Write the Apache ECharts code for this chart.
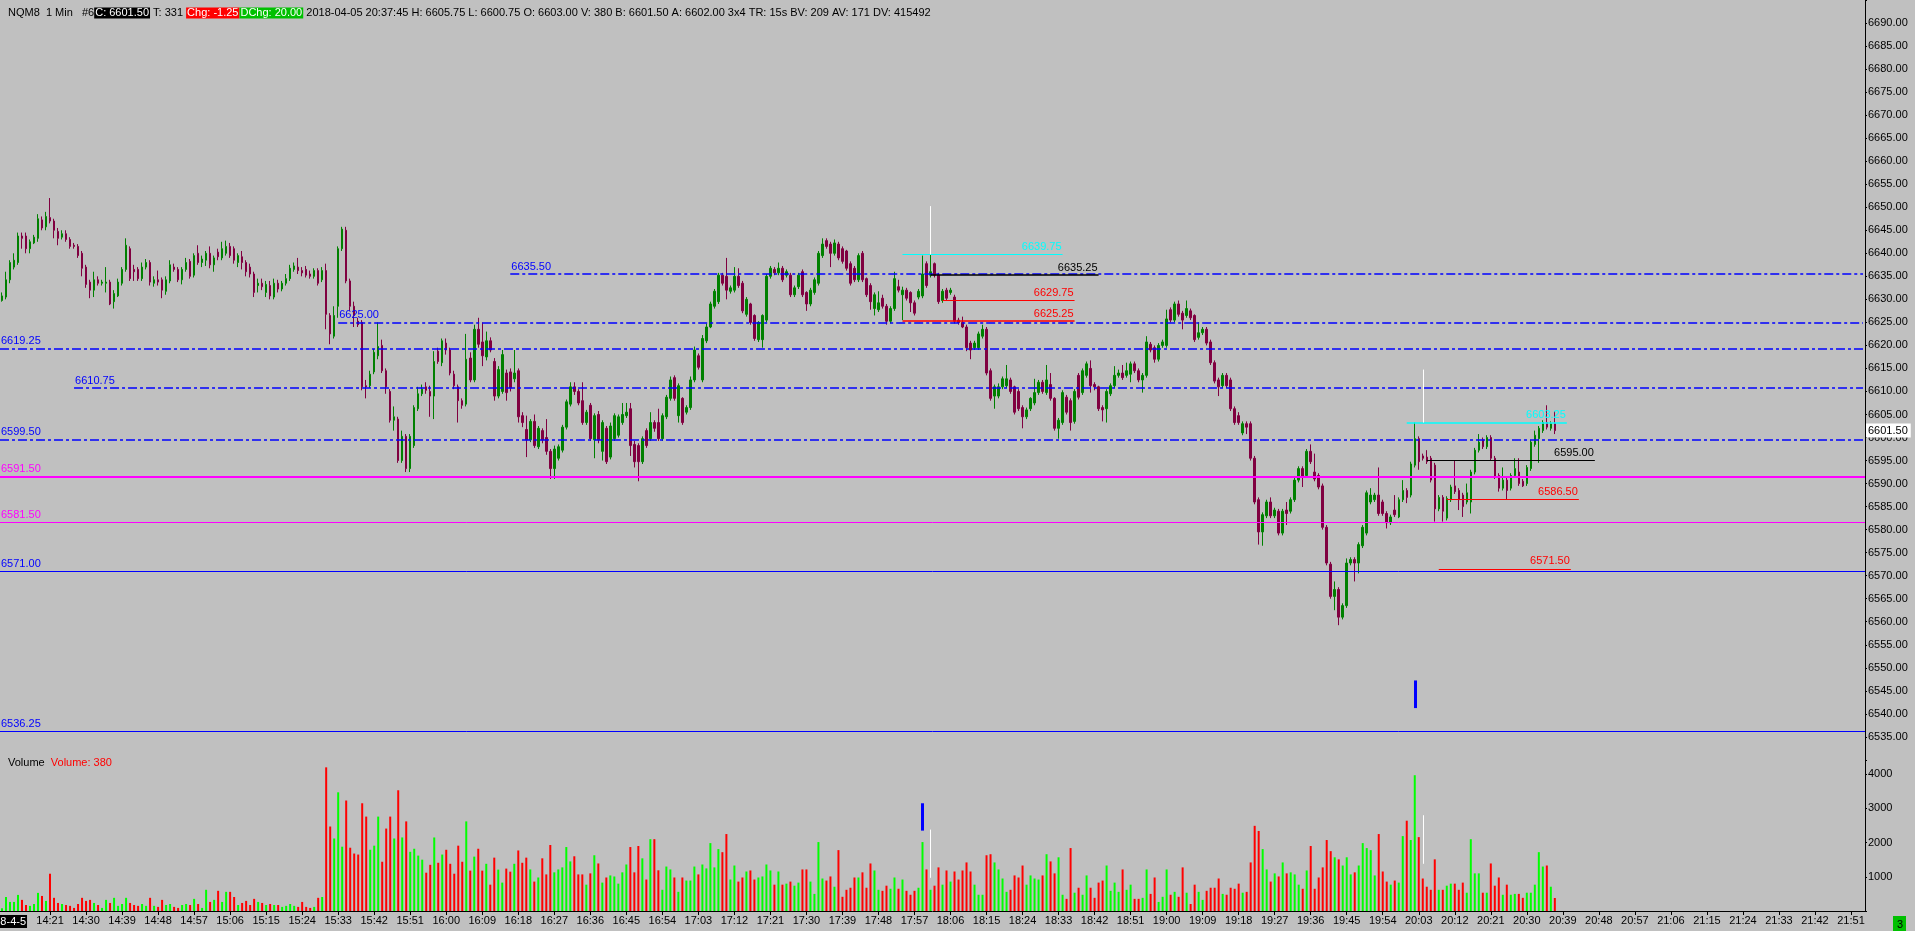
<!DOCTYPE html>
<html><head><meta charset="utf-8">
<script src="https://cdn.jsdelivr.net/npm/echarts/dist/echarts.min.js"></script>
<style>html,body{margin:0;padding:0;background:#c0c0c0;overflow:hidden}#c{width:1915px;height:931px}</style>
</head><body><div id="c"></div><script>
// ---------- data ----------
const startMinute = 14 * 60 + 9;     // first bar 14:09
const slotCount = 466;               // minutes shown on the time axis (to 21:54)
const dateLabel = '2018-4-5';
const tickLabels = ['14:21','14:30','14:39','14:48','14:57','15:06','15:15','15:24','15:33','15:42','15:51','16:00','16:09','16:18','16:27','16:36','16:45','16:54','17:03','17:12','17:21','17:30','17:39','17:48','17:57','18:06','18:15','18:24','18:33','18:42','18:51','19:00','19:09','19:18','19:27','19:36','19:45','19:54','20:03','20:12','20:21','20:30','20:39','20:48','20:57','21:06','21:15','21:24','21:33','21:42','21:51'];
// [open, close, low, high]
const candles = [
[6629.75,6630.75,6629.5,6631.5],[6630.5,6634.25,6630,6636],[6634.25,6638,6633.5,6638.5],[6637,6638.5,6636.5,6640],[6638,6643.75,6637.5,6644.5],
[6643.75,6643.25,6641,6644.5],[6643.75,6641,6640,6644.5],[6641,6642.5,6640,6643],[6642.25,6643.5,6642,6644],[6643.25,6647.5,6642.5,6648.5],
[6647.25,6645.5,6645,6648],[6645.75,6648,6645,6649],[6647.75,6647,6646.5,6652],[6647,6645,6643.25,6647.5],[6644.75,6643.25,6641.75,6645.5],
[6643.5,6644.25,6643,6645],[6644.25,6643,6642.5,6645],[6643,6641.5,6641,6643.5],[6641.75,6641.5,6641,6642.25],[6641.5,6639.5,6639,6642],
[6640,6636.75,6635,6640.5],[6637,6633.25,6632.5,6637.5],[6633.75,6632,6630.25,6634.25],[6632,6634.25,6630.5,6636],[6634.25,6633.5,6633,6635],
[6633.5,6633.75,6633,6634.25],[6633.5,6633.75,6631.5,6637],[6633.75,6629,6628.75,6634.25],[6629.5,6631.25,6628,6632],[6630.75,6633.75,6630.5,6634.5],
[6633.5,6636.5,6633,6637],[6636.5,6641.75,6636,6643.25],[6641,6634.5,6634,6641.5],[6636.5,6636,6634,6637.5],[6636.5,6634.5,6634,6637],
[6634.5,6637,6634,6638],[6637,6638,6636.5,6638.75],[6638,6633.75,6633,6638.5],[6633.5,6634.25,6632.75,6635],[6634.25,6633.75,6633,6636.25],
[6634.25,6632,6630.25,6634.75],[6631.75,6634.25,6631,6635],[6634,6637.5,6633.5,6638.5],[6637,6636.5,6636,6637.75],[6636.5,6634.25,6633.75,6637],
[6634.25,6636.5,6633.25,6637],[6636.5,6638,6636,6639],[6638.25,6635,6634.5,6638.75],[6635.25,6639.5,6634.75,6640],[6640,6638,6637.5,6641.75],
[6638,6638.75,6637,6639.5],[6638.5,6640,6637.25,6640.5],[6640,6637.5,6636.75,6641.5],[6637.5,6639,6636,6639.5],[6640.25,6639.25,6638.5,6641],
[6639,6641,6638.5,6642.5],[6640,6641.5,6639.5,6642.75],[6641.5,6639.5,6639,6642.25],[6641,6638.5,6637.75,6641.5],[6638,6639.5,6637,6640],
[6639.25,6638,6636.5,6640.5],[6638,6636,6635,6638.5],[6637,6635.5,6634.75,6637.75],[6635.5,6631.5,6630.5,6636],[6633,6633.5,6631.5,6634.5],
[6633.5,6632.75,6632,6634.5],[6631.5,6633.25,6630.5,6634],[6633,6630.75,6630,6634],[6630.5,6633.5,6630,6634.5],[6633.5,6632.25,6631.5,6634.25],
[6632.25,6633.5,6631.75,6634],[6633.5,6634.5,6633,6635.5],[6634.5,6636.75,6634,6637.5],[6636.5,6637.25,6636,6638],[6637,6636.25,6635.5,6639],
[6636.25,6635.75,6635,6637],[6636.5,6635.25,6634.75,6637.25],[6635.5,6635,6634.5,6636.25],[6635,6636.25,6634.5,6636.75],[6636.25,6633.5,6633,6636.75],
[6634.25,6636.25,6633.75,6637],[6636.25,6626.75,6623.5,6637.75],[6626.5,6622.5,6620.25,6627],[6622,6626.5,6621.5,6628.5],[6628.5,6641,6626,6641.5],
[6641,6645.25,6640.5,6645.75],[6645,6634,6633.5,6645.75],[6634,6628.5,6627.5,6634.5],[6628.5,6626.5,6624,6629.5],[6625.25,6624.5,6624,6626],
[6625,6611,6610.25,6625.5],[6611.25,6611,6608.5,6612.5],[6611.25,6613.75,6610.75,6614.5],[6614.25,6618.5,6613.75,6619.25],[6617.75,6619.75,6617,6625],
[6620,6614.5,6614,6621.25],[6614.5,6611,6609.5,6615],[6610,6603.75,6603.25,6610.5],[6603.75,6604.5,6601.5,6606.75],[6604,6595,6594.5,6604.5],
[6595,6600.25,6594.5,6601.5],[6600.25,6593.25,6592.5,6600.75],[6593.25,6600.25,6592.5,6600.75],[6598.25,6606.5,6597.75,6607],[6606.25,6609.5,6605.75,6611],
[6609.5,6610.5,6609,6611.5],[6611,6610.25,6609.5,6612],[6610,6609,6604.5,6611.25],[6609,6616.5,6604,6618.75],[6618.75,6616.5,6616,6619.5],
[6616.25,6621,6615.5,6621.5],[6620.5,6619,6618,6621.5],[6619,6614,6613.5,6619.5],[6613.75,6611.25,6610.5,6614.5],[6611,6608,6603.25,6611.5],
[6608,6607,6606.25,6608.5],[6607.25,6617,6606.75,6622.5],[6617.25,6612.5,6612,6618.5],[6612.5,6623.5,6612,6624.5],[6623.5,6620.25,6619.5,6626],
[6620.75,6617.75,6615.5,6625],[6617.5,6621,6616.75,6623],[6621,6619,6618.5,6621.75],[6616.5,6609,6608,6617.25],[6609,6614.75,6608.5,6615.5],
[6610,6618,6609.5,6619],[6614,6609.75,6608,6614.75],[6614.25,6610.75,6610,6615],[6612.75,6614,6612,6619],[6614.5,6604.5,6603.25,6615],
[6604.75,6603.25,6602.25,6605.5],[6601.75,6599.5,6595.75,6604.75],[6599.5,6603.5,6599,6604],[6603.5,6598.25,6597.75,6605],[6598,6602,6597.5,6602.5],
[6601.5,6599.5,6598.75,6602],[6600,6597,6596.25,6604],[6597,6593.25,6591,6597.5],[6593.25,6597.5,6591,6598.25],[6595.5,6598,6595,6598.5],
[6597.25,6602.25,6596.75,6602.75],[6602.25,6607.75,6601.75,6608.25],[6607.25,6611,6606.75,6612],[6611,6610,6609.25,6612],[6610,6607.5,6607,6610.5],
[6608,6603.25,6602.75,6612],[6603.25,6605.5,6602.75,6606],[6607,6599.75,6599.25,6607.5],[6599.5,6604.75,6595.5,6605.25],[6605,6599.5,6598.75,6605.75],
[6597,6603.25,6595,6603.75],[6602,6594.75,6594.25,6602.5],[6595.75,6602.5,6595.25,6603.25],[6599.75,6604.75,6599.25,6605.25],[6600.5,6604.5,6600,6605],
[6603.25,6605,6602.75,6607.5],[6604.75,6605.5,6604.25,6607.5],[6606.25,6598.25,6596,6607.5],[6598.5,6594.75,6593.5,6599.25],[6598.25,6594.75,6590.5,6598.75],
[6594.75,6599.75,6594.25,6600.25],[6601.5,6598.25,6597.75,6602],[6599.75,6603.25,6599.25,6605.5],[6603.25,6602,6601.25,6603.75],[6603.25,6599.75,6599.25,6606.25],
[6599.75,6604.75,6599.25,6605.25],[6604.5,6608.75,6604,6609.25],[6608.5,6612.5,6608,6613.25],[6613,6608.5,6608,6613.5],[6604.75,6611.25,6603.25,6611.75],
[6608.5,6603.25,6602.75,6608.75],[6605.5,6606.5,6605,6607],[6606.5,6612.5,6606,6613.25],[6612.5,6619,6612,6619.75],[6617.75,6615.25,6614.75,6618.25],
[6612.5,6621.5,6612,6622.25],[6621,6624,6620.5,6624.75],[6624,6629,6623.75,6629.5],[6628.5,6631.75,6628,6632.25],[6629.5,6635.25,6629,6635.75],
[6635.25,6633.5,6633,6635.75],[6635,6632,6630,6639],[6631.75,6632.5,6631.25,6633],[6632,6635,6631.5,6637],[6635,6633,6632.5,6636.75],
[6633.5,6627.5,6627,6634],[6626.75,6630,6626.25,6630.5],[6629,6625,6624.5,6629.25],[6626.5,6621.5,6621,6626.75],[6621.25,6625,6620.75,6625.25],
[6621.25,6626.5,6619.5,6626.75],[6625.5,6635,6625,6635.5],[6635,6636.75,6634.5,6637.25],[6636.5,6635.75,6635.25,6637],[6635.75,6636.75,6635.25,6638],
[6636.75,6634.25,6633.75,6637.25],[6635.25,6636,6634.75,6636.5],[6635.25,6631,6630.5,6635.75],[6631,6632.5,6630.5,6633],[6632.75,6635.25,6632.25,6635.75],
[6636,6631,6630.5,6636.5],[6631.5,6629,6627.5,6631.75],[6629,6632,6628.5,6632.5],[6631.5,6634.25,6631,6634.75],[6633.5,6640,6633,6640.5],
[6639.5,6642,6639,6643.25],[6642.75,6641.5,6641,6643.25],[6642,6640,6637,6642.5],[6640,6642.25,6639.5,6643],[6642,6639,6638.5,6642.5],
[6641,6638.25,6637.75,6641.5],[6640.5,6636.75,6636.25,6640.75],[6637.75,6633.5,6633,6638.25],[6636.75,6634.25,6633.75,6637.25],[6634.25,6639.5,6633.75,6640],
[6640,6634.25,6633.75,6640.5],[6634.5,6631,6630.5,6634.75],[6633,6629.5,6627.75,6633.5],[6628,6631,6626.5,6631.5],[6627.75,6629.25,6627.25,6631.75],
[6630.25,6628.5,6628,6631],[6628.5,6625.25,6624.5,6629],[6625.25,6628,6624.75,6628.5],[6628,6634.5,6627.5,6636],[6632.75,6632,6631.5,6634.25],
[6631,6632,6625.5,6632.75],[6632,6630.25,6629.75,6632.5],[6631.5,6629.25,6627.25,6631.75],[6629.25,6627,6626.5,6629.75],[6630.5,6631.75,6630,6632.25],
[6630.75,6635.5,6630.25,6639.5],[6637.75,6633,6632.5,6638.25],[6635.25,6636,6634.75,6639.75],[6637.75,6635.25,6634.75,6638],[6635.25,6629.5,6629,6635.75],
[6629.75,6631.75,6629.25,6632.25],[6632,6630.25,6629.75,6632.5],[6631.5,6632,6631,6632.5],[6630.5,6625.25,6624.75,6631],[6625.5,6625,6624.5,6626],
[6625,6624,6623.75,6626.25],[6624,6619.5,6618.75,6624.5],[6620.5,6619,6617,6621],[6619.5,6620.5,6619,6621],[6619.5,6622.5,6619,6623],
[6622,6623.5,6621.5,6624.5],[6623.5,6614,6613.5,6624],[6614.5,6608.5,6608,6615],[6609,6611,6606.25,6611.5],[6609,6611,6608.5,6611.75],
[6611,6612.75,6610.5,6613.25],[6611.25,6612.75,6610.75,6615.75],[6612.5,6610,6609.5,6613],[6611,6605.5,6605,6611.25],[6610,6606.25,6605.75,6610.5],
[6606.5,6604.5,6602,6607],[6604.5,6606,6604,6606.5],[6606.25,6608.5,6605.75,6608.75],[6607.5,6609.75,6607,6612.75],[6609.75,6612,6609.25,6612.5],
[6612,6610,6609.5,6612.5],[6609.75,6612.5,6609.25,6615.75],[6611.5,6608.5,6608,6614],[6608.5,6602,6601.5,6608.75],[6602,6603.75,6599.75,6604.25],
[6603.25,6609.75,6602.75,6610.25],[6608.75,6605.5,6605,6609.25],[6608,6603.25,6601.5,6608.5],[6603.5,6610,6603,6610.5],[6613.5,6608.75,6608.25,6614],
[6609.75,6614.5,6609.25,6615],[6613.5,6616,6613,6616.5],[6615,6611.25,6609.75,6616.75],[6611.5,6611,6610.25,6612],[6611,6606.25,6605.75,6611.25],
[6606.5,6606,6603.5,6607],[6606.25,6610,6603.25,6610.5],[6609.5,6611.25,6609,6611.75],[6611.25,6613.5,6610.75,6615.5],[6613.5,6614,6613,6614.75],
[6614,6613,6612.5,6615.75],[6613.5,6614.5,6613,6616.25],[6613.75,6616,6612,6616.5],[6616,6614.5,6614,6616.5],[6614.5,6612.5,6612,6615],
[6612.5,6613.5,6609.75,6614],[6613.5,6620.75,6613,6622],[6620.25,6619,6618.5,6620.75],[6619.5,6617,6616.25,6620],[6617,6620,6616.5,6620.5],
[6620,6620.75,6619.5,6621.25],[6620,6625.75,6619.5,6627.75],[6627.75,6625.5,6625,6628.25],[6625.5,6629,6625,6629.5],[6629,6626.75,6626.25,6629.75],
[6627,6625.5,6623.5,6627.5],[6626.5,6628,6626,6629.75],[6627.5,6626,6625.5,6628],[6626.5,6621.25,6620.75,6626.75],[6621.75,6622.75,6621.25,6625],
[6622.75,6623.5,6622.25,6624],[6623.5,6620.5,6620,6624],[6620.75,6616.25,6615.75,6621.25],[6616.25,6612.25,6611.75,6616.75],[6612.5,6611,6609,6613],
[6611.25,6613.5,6610.75,6614],[6613.5,6611.25,6610.75,6614],[6612.5,6606.25,6605.75,6613],[6606.25,6603.25,6602.75,6606.75],[6604.75,6603.25,6602.75,6605.5],
[6601,6603,6600.5,6603.5],[6603,6602.25,6600.75,6603.5],[6603,6595.5,6595,6603.5],[6595.5,6586,6585.5,6596],[6586.5,6579.5,6576.75,6587],
[6579.5,6583.25,6576.5,6583.75],[6583,6586,6582.5,6586.5],[6586,6583,6582.5,6587],[6583,6584.25,6582.5,6584.75],[6584,6579.25,6578.75,6584.5],
[6579.25,6584,6578.75,6584.5],[6584.25,6583.5,6581,6586],[6584,6586.5,6583.5,6587],[6586.5,6590.75,6586,6591.25],[6590.75,6593.25,6590.25,6593.75],
[6593.25,6591.5,6589.25,6593.75],[6591.75,6597,6591.25,6597.5],[6597,6594.75,6594.25,6598.5],[6592.5,6591,6590.5,6596.5],[6591.75,6589.25,6588.75,6592.25],
[6589.5,6580.5,6580,6590],[6580.5,6572.75,6572.25,6581],[6572.5,6565.5,6565,6573],[6565.5,6567,6562.5,6568.75],[6567,6561,6559.25,6567.5],
[6561,6563.5,6560.5,6564],[6563.5,6572.75,6563,6573.75],[6572.75,6573.5,6572.25,6574],[6573.5,6572.75,6568.75,6574],[6572.75,6576.75,6570.5,6577.25],
[6576.5,6580.5,6576,6581],[6579.25,6588,6578.75,6588.5],[6586,6587.5,6585.5,6589],[6586.5,6587.5,6586,6588],[6587.5,6583.5,6583,6593.5],
[6586,6583.5,6583,6586.5],[6583.5,6581.5,6580.25,6584],[6581.5,6582.75,6581,6583.25],[6584.25,6583.25,6582.75,6587.5],[6582.75,6586.5,6582.5,6587],
[6586.5,6588.5,6586,6590.75],[6588.5,6587,6585.75,6589],[6587.5,6594.25,6587,6594.75],[6594,6599.75,6593.5,6603.25],[6599.75,6594.75,6593,6600.25],
[6596,6595.5,6595,6596.5],[6595.75,6594.75,6594.25,6597.25],[6595.5,6590.75,6590.25,6596],[6594,6584.5,6581.75,6594.5],[6584.5,6587,6584,6587.5],
[6587,6584,6581.75,6587.5],[6582.5,6586.75,6582,6587.25],[6586.5,6589.25,6586,6589.75],[6589.5,6588.25,6587.75,6595],[6588.5,6586.5,6584.25,6589],
[6587.5,6585,6582.75,6588],[6586,6588,6585.5,6590],[6586,6592.5,6583.5,6593],[6592.5,6597.25,6592,6597.75],[6597.25,6599,6596.75,6600.75],
[6599.5,6598,6597.5,6600],[6598,6600,6597.5,6600.5],[6600,6595.5,6595,6600.5],[6595.5,6591.5,6591,6596],[6591.75,6589,6588.25,6592.25],
[6589,6590.75,6588.5,6593.5],[6590.75,6588.5,6586.5,6591.25],[6589,6591.75,6588.5,6592.25],[6591.75,6593.25,6591.25,6595.5],[6592.5,6590,6589.5,6595.5],
[6590.5,6589.5,6589.25,6591],[6590,6593.5,6589.5,6594],[6593.25,6599,6592.75,6599.5],[6598.5,6600.5,6598,6601.5],[6599.75,6602,6594.5,6602.5],
[6601.5,6603.25,6601,6603.75],[6603.25,6602.25,6601.75,6607],[6602,6603,6601.5,6603.5],[6603,6601.5,6600.75,6605.75]
];
const volumes = [
80,410,265,265,470,325,175,150,205,530, 440,295,1090,385,235,205,175,150,90,205,
385,295,325,235,175,90,325,235,385,150, 205,385,235,175,150,205,150,385,150,120,
325,175,205,120,90,175,205,175,355,205, 90,620,265,325,590,265,560,560,410,175,
235,295,175,355,265,235,175,205,175,175, 120,150,205,150,120,265,120,90,120,385,
410,4200,2470,2120,3470,1880,3230,1850,1680,1650, 3150,2760,1790,1910,2760,1440,2410,2760,2120,3530,
2150,2620,1730,1820,1620,1500,1120,1350,2150,1410, 1650,1790,1380,1090,1910,1440,2620,1180,1590,1820,
1180,1380,770,1560,1210,830,1240,1150,1380,1770, 1410,1560,1215,860,980,1540,1070,1930,1130,1215,
1275,1870,1450,1600,1070,1070,770,1100,1630,1390, 830,980,1040,1010,800,1130,1360,1870,1130,1900,
1540,920,2100,2100,1190,620,1300,1215,980,560, 980,890,890,1300,1070,1360,1245,1985,1275,1810,
1720,2250,920,1330,860,980,1155,1185,920,980, 1010,1360,1185,770,1155,770,800,860,740,830,
1215,1215,860,500,2015,950,890,1010,710,1780, 415,620,680,980,980,1130,680,1390,1185,620,
590,740,650,980,650,920,590,475,590,680, 2015,1215,620,740,1275,770,1185,860,1155,920,
1185,1420,1155,770,475,475,1630,1660,1420,1215, 950,560,620,1040,980,1330,770,1040,950,920,
1040,1660,1450,1100,1570,475,355,1840,535,680, 475,1040,680,385,830,890,1330,590,830,560,
1215,620,770,355,355,385,1215,500,980,265, 415,1215,475,560,415,1275,535,205,770,560,
325,590,680,680,950,500,475,680,650,800, 535,560,1420,2490,2340,1810,1215,860,1100,1010,
1420,1100,1130,1070,770,650,1185,1900,650,980, 1275,2075,1750,1570,1510,1330,1570,1070,1130,1330,
1985,1840,1780,1040,2250,1155,860,770,890,830, 2190,2640,2075,3970,2160,950,710,620,1510,620,
620,740,800,800,620,830,535,2100,1100,1100, 535,535,1390,740,980,475,770,475,500,500,
385,535,535,770,1720,1300,1330,710,380
];
// horizontal levels
const dashLevels = [6635.50, 6625.00, 6619.25, 6610.75, 6599.50];
const dashStart  = ['16:16', '15:33', null, '14:27', null];
const solidLevels = [6591.50, 6581.50, 6571.00, 6536.25];
const segPrices = [6639.75, 6635.25, 6629.75, 6625.25, 6603.25, 6595.00, 6586.50, 6571.50];
const segFrom   = ['17:54', '18:01', '18:04', '17:54', '20:00', '20:05', '20:10', '20:08'];
const segTo     = ['18:34', '18:43', '18:37', '18:37', '20:40', '20:47', '20:43', '20:41'];
// vertical markers [time, from, to]
const priceWhite = [['18:01', 6639.75, 6650.25], ['20:04', 6603.25, 6614.75]];
const priceBlue  = [['20:02', 6541.25, 6547.25]];
const volWhite   = [['18:01', 970, 2380], ['20:04', 1380, 2800]];
const volBlue    = [['17:59', 2350, 3150]];
const header = {sym: 'NQM8  1 Min   #6', c: 'C: 6601.50', t: ' T: 331 ', chg: 'Chg: -1.25', dchg: 'DChg: 20.00',
  rest: ' 2018-04-05 20:37:45 H: 6605.75 L: 6600.75 O: 6603.00 V: 380 B: 6601.50 A: 6602.00 3x4 TR: 15s BV: 209 AV: 171 DV: 415492'};

// ---------- build ----------
const pad = n => (n < 10 ? '0' : '') + n;
const categories = [];
for (let i = 0; i < slotCount; i++) { const m = startMinute + i; categories.push(pad(Math.floor(m / 60)) + ':' + pad(m % 60)); }
const tickSet = new Set(tickLabels);
const FONT = "'Liberation Sans',Arial,sans-serif";
const FS = 11;
const BLUE = '#0000ff', MAG = '#ff00ff', CYAN = '#00ffff', RED = '#ff0000', BLACK = '#000000';
const UP = '#008000', DN = '#800040';
const lastClose = candles[candles.length - 1][1];
const lastVol = volumes[volumes.length - 1];
const fmt2 = v => v.toFixed(2);
const lbl = (color, pos) => ({show: true, position: pos, color, fontFamily: FONT, fontSize: FS, fontWeight: 'normal', distance: [1, 2]});

const priceMarks = [];
const dashStyle = [9, 3, 3, 3];
dashLevels.forEach((p, k) => {
  const label = Object.assign(lbl(BLUE, 'insideStartTop'), {formatter: fmt2(p)});
  const ls = {color: BLUE, width: 1.5, type: dashStyle};
  if (dashStart[k]) priceMarks.push([{coord: [dashStart[k], p], lineStyle: ls, label}, {coord: [categories[slotCount - 1], p]}]);
  else priceMarks.push({yAxis: p, lineStyle: ls, label});
});
const solidColors = [MAG, MAG, BLUE, BLUE], solidWidths = [2, 1, 1, 1];
solidLevels.forEach((p, k) => {
  priceMarks.push({yAxis: p, lineStyle: {color: solidColors[k], width: solidWidths[k], type: 'solid'},
    label: Object.assign(lbl(solidColors[k], 'insideStartTop'), {formatter: fmt2(p)})});
});
const segColors = [CYAN, BLACK, RED, RED, CYAN, BLACK, RED, RED], segWidths = [1, 1.5, 1, 1.5, 1.5, 1, 1, 1];
segPrices.forEach((p, k) => {
  priceMarks.push([{coord: [segFrom[k], p], lineStyle: {color: segColors[k], width: segWidths[k], type: 'solid'},
    label: Object.assign(lbl(segColors[k], 'insideEndTop'), {formatter: fmt2(p)})},
    {coord: [segTo[k], p]}]);
});
priceWhite.forEach(m => priceMarks.push([{coord: [m[0], m[1]], lineStyle: {color: '#ffffff', width: 1, type: 'solid'}, label: {show: false}}, {coord: [m[0], m[2]]}]));
priceBlue.forEach(m => priceMarks.push([{coord: [m[0], m[1]], lineStyle: {color: BLUE, width: 3, type: 'solid'}, label: {show: false}}, {coord: [m[0], m[2]]}]));
// last price tag on the axis
priceMarks.push({yAxis: lastClose, lineStyle: {color: 'rgba(0,0,0,0)', width: 1, type: 'solid'},
  label: {show: true, position: 'end', formatter: fmt2(lastClose), color: '#000', backgroundColor: '#ffffff',
          padding: [2, 3, 1, 2], fontFamily: FONT, fontSize: FS, fontWeight: 'normal', distance: 1}});

const volMarks = [];
volWhite.forEach(m => volMarks.push([{coord: [m[0], m[1]], lineStyle: {color: '#ffffff', width: 1, type: 'solid'}, label: {show: false}}, {coord: [m[0], m[2]]}]));
volBlue.forEach(m => volMarks.push([{coord: [m[0], m[1]], lineStyle: {color: BLUE, width: 3, type: 'solid'}, label: {show: false}}, {coord: [m[0], m[2]]}]));

const volData = volumes.map((v, i) => ({value: v, itemStyle: {color: candles[i][1] >= candles[i][0] ? '#00ff00' : '#ff0000'}}));

const chart = echarts.init(document.getElementById('c'), null, {renderer: 'canvas'});
const axisTextStyle = {color: '#000', fontFamily: FONT, fontSize: FS, fontWeight: 'normal'};
const rs = extra => Object.assign({fontFamily: FONT, fontSize: FS, fontWeight: 'normal', lineHeight: 14}, extra);
chart.setOption({
  backgroundColor: '#c0c0c0',
  animation: false,
  textStyle: {fontFamily: FONT, fontWeight: 'normal'},
  title: [
    {left: 3, top: 1, text: '{a|' + header.sym + '}{b|' + header.c + '}{a|' + header.t + '}{c|' + header.chg + '}{d|' + header.dchg + '}{a|' + header.rest + '}',
     textStyle: {fontFamily: FONT, fontSize: FS, fontWeight: 'normal', rich: {
       a: rs({color: '#000'}),
       b: rs({color: '#fff', backgroundColor: '#000', padding: [0, 1]}),
       c: rs({color: '#fff', backgroundColor: '#ff0000', padding: [0, 1]}),
       d: rs({color: '#fff', backgroundColor: '#00c000', padding: [0, 1]})}}},
    {left: 3, top: 751, text: '{a|Volume}  {b|Volume: ' + lastVol + '}',
     textStyle: {fontFamily: FONT, fontSize: FS, fontWeight: 'normal', rich: {a: rs({color: '#000'}), b: rs({color: '#ff0000'})}}}
  ],
  grid: [
    {left: -1, width: 1866, top: -4.9, height: 764.8},
    {left: -1, width: 1866, top: 760.5, height: 150.5}
  ],
  xAxis: [
    {type: 'category', gridIndex: 0, data: categories, boundaryGap: true, show: false},
    {type: 'category', gridIndex: 1, data: categories, boundaryGap: true,
     axisLine: {show: true, lineStyle: {color: '#000', width: 1}},
     axisTick: {show: true, alignWithLabel: true, length: 4, interval: (i, v) => tickSet.has(v), lineStyle: {color: '#000'}},
     axisLabel: Object.assign({show: true, margin: 4, interval: (i, v) => tickSet.has(v)}, axisTextStyle),
     splitLine: {show: false}}
  ],
  yAxis: [
    {type: 'value', gridIndex: 0, position: 'right', min: 6530, max: 6695, interval: 5,
     axisLine: {show: true, lineStyle: {color: '#000', width: 1}},
     axisTick: {show: true, length: 2, lineStyle: {color: '#000'}},
     axisLabel: Object.assign({show: true, margin: 3, formatter: v => (v >= 6535 && v <= 6690) ? fmt2(v) : ''}, axisTextStyle),
     splitLine: {show: false}},
    {type: 'value', gridIndex: 1, position: 'right', min: 0, max: 4400, interval: 1000,
     axisLine: {show: true, lineStyle: {color: '#000', width: 1}},
     axisTick: {show: true, length: 2, lineStyle: {color: '#000'}},
     axisLabel: Object.assign({show: true, margin: 3, formatter: v => (v >= 1000 && v <= 4000) ? String(v) : ''}, axisTextStyle),
     splitLine: {show: false}}
  ],
  series: [
    {type: 'candlestick', xAxisIndex: 0, yAxisIndex: 0, data: candles, barWidth: 2,
     itemStyle: {color: UP, color0: DN, borderColor: UP, borderColor0: DN, borderWidth: 1},
     markLine: {silent: true, symbol: ['none', 'none'], animation: false, data: priceMarks}},
    {type: 'bar', xAxisIndex: 1, yAxisIndex: 1, data: volData, barWidth: 2,
     markLine: {silent: true, symbol: ['none', 'none'], animation: false, data: volMarks}}
  ],
  graphic: [
    {type: 'text', x: -19, y: 915, style: {text: dateLabel, fill: '#fff', backgroundColor: '#000', padding: [1, 1, 1, 1], font: FS + 'px ' + FONT}},
    {type: 'rect', right: 9, bottom: 0, shape: {width: 13, height: 15}, style: {fill: '#00c000'}},
    {type: 'text', right: 12, bottom: 1, style: {text: '3', fill: '#000', font: FS + 'px ' + FONT}}
  ]
});
</script></body></html>
